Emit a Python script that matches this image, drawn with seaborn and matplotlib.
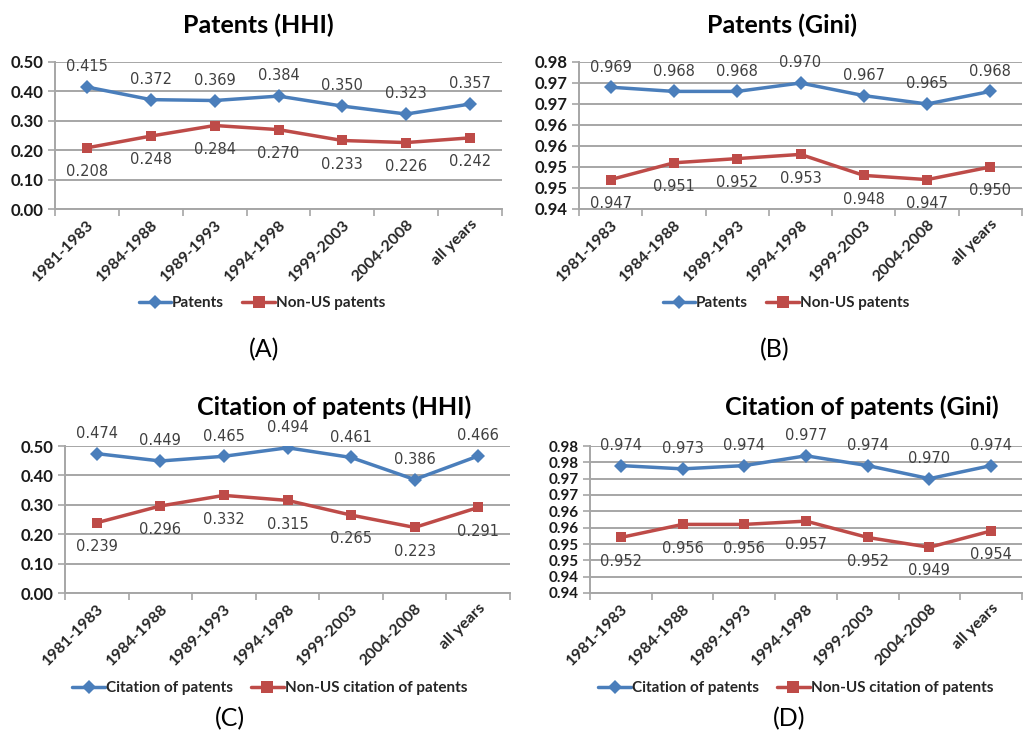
import numpy as np
import pandas as pd
import matplotlib
matplotlib.use("Agg")
import matplotlib.pyplot as plt
import seaborn as sns
from matplotlib.lines import Line2D
from matplotlib.ticker import FixedLocator

sns.set_theme(style="white")
plt.rcParams['font.family'] = ['Lato', 'DejaVu Sans']

categories = ["1981-1983", "1984-1988", "1989-1993", "1994-1998", "1999-2003", "2004-2008", "all years"]

patents_hhi = [0.415, 0.372, 0.369, 0.384, 0.350, 0.323, 0.357]
nonus_patents_hhi = [0.208, 0.248, 0.284, 0.270, 0.233, 0.226, 0.242]
patents_gini = [0.969, 0.968, 0.968, 0.970, 0.967, 0.965, 0.968]
nonus_patents_gini = [0.947, 0.951, 0.952, 0.953, 0.948, 0.947, 0.950]
cit_hhi = [0.474, 0.449, 0.465, 0.494, 0.461, 0.386, 0.466]
nonus_cit_hhi = [0.239, 0.296, 0.332, 0.315, 0.265, 0.223, 0.291]
cit_gini = [0.974, 0.973, 0.974, 0.977, 0.974, 0.970, 0.974]
nonus_cit_gini = [0.952, 0.956, 0.956, 0.957, 0.952, 0.949, 0.954]

titles = ["Patents (HHI)", "Patents (Gini)", "Citation of patents (HHI)", "Citation of patents (Gini)"]
panel_letters = ["(A)", "(B)", "(C)", "(D)"]
legend_names = [("Patents", "Non-US patents"), ("Patents", "Non-US patents"),
                ("Citation of patents", "Non-US citation of patents"),
                ("Citation of patents", "Non-US citation of patents")]
yticks_hhi = [0.0, 0.1, 0.2, 0.3, 0.4, 0.5]
yticks_gini_b = [0.940, 0.945, 0.950, 0.955, 0.960, 0.965, 0.970, 0.975]
yticks_gini_d = [0.935, 0.940, 0.945, 0.950, 0.955, 0.960, 0.965, 0.970, 0.975, 0.980]

BLUE = "#4A7EBB"
RED = "#BE4B48"
GRID = "#A6A6A6"
W, H = 1025, 735

fig = plt.figure(figsize=(W / 100, H / 100), dpi=100)

panels = [
    dict(box=(55, 502, 62, 209), title=(258, 25), leg=(262, 303), let=(264, 350),
         a=patents_hhi, b=nonus_patents_hhi, yt=yticks_hhi, fmt="{:.2f}", ysize=12),
    dict(box=(579, 1022, 62, 209), title=(782, 25), leg=(786, 303), let=(775, 350),
         a=patents_gini, b=nonus_patents_gini, yt=yticks_gini_b, fmt="round", ysize=12),
    dict(box=(65, 510, 446, 593), title=(334, 407), leg=(270, 688), let=(230, 719),
         a=cit_hhi, b=nonus_cit_hhi, yt=yticks_hhi, fmt="{:.2f}", ysize=12),
    dict(box=(590, 1022, 446, 593), title=(862, 407), leg=(796, 688), let=(789, 719),
         a=cit_gini, b=nonus_cit_gini, yt=yticks_gini_d, fmt="round", ysize=11),
]

def fmt_round(v):
    return "{:.2f}".format(v + 1e-9)

for i, p in enumerate(panels):
    l, r, t, b = p["box"]
    ax = fig.add_axes([l / W, 1 - b / H, (r - l) / W, (b - t) / H])
    xs = np.arange(len(categories))
    df = pd.DataFrame({"x": np.concatenate([xs, xs]),
                       "y": list(p["a"]) + list(p["b"]),
                       "s": [legend_names[i][0]] * len(xs) + [legend_names[i][1]] * len(xs)})
    sns.lineplot(data=df, x="x", y="y", hue="s", style="s",
                 palette=[BLUE, RED], markers=["D", "s"], dashes=False,
                 markersize=7, linewidth=2.5, markeredgewidth=0, ax=ax, legend=False, zorder=3)
    yt = p["yt"]
    ax.set_ylim(yt[0], yt[-1])
    ax.set_xlim(-0.5, len(categories) - 0.5)
    ax.yaxis.set_major_locator(FixedLocator(yt))
    if p["fmt"] == "round":
        ax.set_yticklabels([fmt_round(v) for v in yt])
    else:
        ax.set_yticklabels([p["fmt"].format(v) for v in yt])
    ax.set_xticks(xs)
    ax.set_xticklabels(categories, rotation=45, ha="right", rotation_mode="anchor",
                       fontsize=11.5, fontweight="bold", color="#262626")
    ax.xaxis.set_minor_locator(FixedLocator(np.arange(-0.5, len(categories), 1.0)))
    ax.tick_params(axis="x", which="major", length=0, pad=6)
    ax.tick_params(axis="x", which="minor", length=5, width=1.2, color=GRID, direction="out", bottom=True)
    ax.tick_params(axis="y", which="major", length=5, width=1.2, color=GRID, direction="out", left=True,
                   labelsize=p["ysize"], pad=3)
    for lab in ax.get_yticklabels():
        lab.set_fontweight("bold")
        lab.set_color("#1a1a1a")
    ax.grid(axis="y", color=GRID, linewidth=1.4)
    ax.set_axisbelow(True)
    for sname in ["top", "right"]:
        ax.spines[sname].set_visible(False)
    for sname in ["left", "bottom"]:
        ax.spines[sname].set_color(GRID)
        ax.spines[sname].set_linewidth(1.4)
    ax.set_xlabel("")
    ax.set_ylabel("")
    for xv, yv in zip(xs, p["a"]):
        ax.annotate(f"{yv:.3f}", (xv, yv), xytext=(0, 14.5), textcoords="offset points",
                    ha="center", va="center", fontsize=10.5, color="#404040",
                    family=["DejaVu Sans"], zorder=4)
    for xv, yv in zip(xs, p["b"]):
        ax.annotate(f"{yv:.3f}", (xv, yv), xytext=(0, -17), textcoords="offset points",
                    ha="center", va="center", fontsize=10.5, color="#404040",
                    family=["DejaVu Sans"], zorder=4)
    tx, ty = p["title"]
    fig.text(tx / W, 1 - ty / H, titles[i], ha="center", va="center",
             fontsize=18, fontweight="bold", color="#000000")
    handles = [Line2D([], [], color=BLUE, marker="D", markersize=7, markeredgewidth=0, linewidth=2.5),
               Line2D([], [], color=RED, marker="s", markersize=8, markeredgewidth=0, linewidth=2.5)]
    lx, ly = p["leg"]
    fig.legend(handles, legend_names[i], loc="center", bbox_to_anchor=(lx / W, 1 - ly / H),
               ncol=2, frameon=False, handlelength=2.1, handletextpad=0.1,
               columnspacing=1.2, prop=dict(family="Lato", size=11, weight="bold"))
    ax_l = p["let"]
    fig.text(ax_l[0] / W, 1 - ax_l[1] / H, panel_letters[i], ha="center", va="center",
             fontsize=18, color="#000000")

fig.savefig("out.png", dpi=100, facecolor="white")
